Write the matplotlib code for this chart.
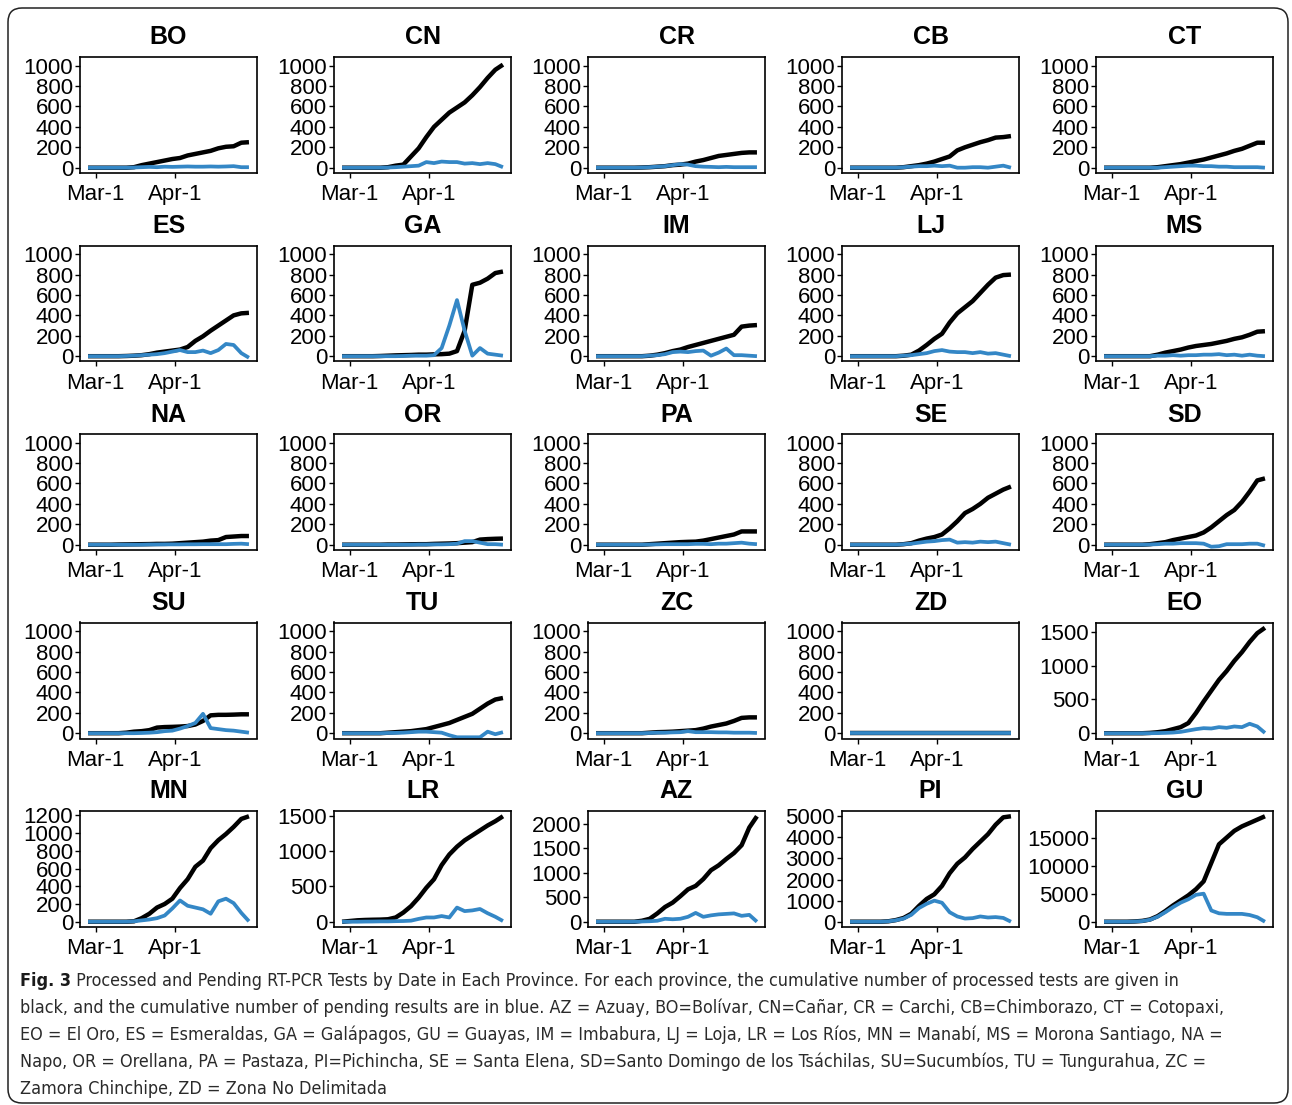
import numpy as np
import matplotlib
matplotlib.use("Agg")
import matplotlib.pyplot as plt
from matplotlib import font_manager as fm
from matplotlib.patches import FancyBboxPatch
from matplotlib.transforms import IdentityTransform
from matplotlib.ticker import MultipleLocator

# ---------------- data ----------------
dates = np.arange("2020-02-27", "2020-05-01", 3, dtype="datetime64[D]")
xtick_dates = np.array(["2020-03-01", "2020-04-01"], dtype="datetime64[D]")
xtick_labels = ["Mar-1", "Apr-1"]

provinces = ["BO", "CN", "CR", "CB", "CT",
             "ES", "GA", "IM", "LJ", "MS",
             "NA", "OR", "PA", "SE", "SD",
             "SU", "TU", "ZC", "ZD", "EO",
             "MN", "LR", "AZ", "PI", "GU"]

BO_processed = [0, 0, 0, 0, 0, 0, 5, 25, 40, 55, 70, 85, 95, 120, 135, 150, 165, 190, 205, 210, 245, 250]
BO_pending = [0, 0, 0, 0, 0, 0, 2, 5, 8, 5, 10, 8, 10, 12, 10, 10, 12, 10, 12, 15, 5, 5]
CN_processed = [0, 0, 0, 0, 0, 0, 5, 20, 30, 110, 190, 300, 400, 470, 540, 590, 640, 710, 790, 880, 960, 1010]
CN_pending = [0, 0, 0, 0, 0, 0, 2, 5, 10, 15, 20, 55, 45, 60, 55, 55, 40, 45, 35, 45, 35, 5]
CR_processed = [0, 0, 0, 0, 0, 0, 2, 5, 10, 15, 25, 30, 40, 60, 75, 95, 115, 125, 135, 145, 150, 150]
CR_pending = [0, 0, 0, 0, 0, 0, 2, 5, 10, 15, 25, 35, 30, 15, 10, 8, 5, 8, 5, 5, 5, 5]
CB_processed = [0, 0, 0, 0, 0, 0, 0, 5, 15, 25, 40, 60, 85, 110, 170, 200, 225, 250, 270, 295, 300, 310]
CB_pending = [0, 0, 0, 0, 0, 0, 0, 5, 10, 15, 15, 20, 15, 20, 0, 0, 5, 5, 0, 10, 20, 0]
CT_processed = [0, 0, 0, 0, 0, 0, 0, 5, 15, 25, 35, 50, 65, 80, 100, 120, 140, 165, 185, 215, 245, 245]
CT_pending = [0, 0, 0, 0, 0, 0, 0, 0, 5, 10, 15, 20, 20, 15, 15, 10, 10, 5, 5, 5, 5, 0]
ES_processed = [0, 0, 0, 0, 0, 2, 5, 10, 20, 35, 45, 55, 65, 90, 150, 195, 250, 300, 350, 400, 420, 425]
ES_pending = [0, 0, 0, 0, 0, 2, 5, 10, 15, 20, 30, 45, 60, 40, 40, 55, 30, 60, 120, 110, 30, -15]
GA_processed = [0, 0, 0, 0, 0, 2, 5, 8, 10, 12, 15, 15, 18, 20, 25, 50, 250, 700, 720, 760, 815, 830]
GA_pending = [0, 0, 0, 0, 0, 0, 0, 0, 2, 5, 5, 5, 10, 80, 300, 550, 250, 5, 80, 25, 15, 5]
IM_processed = [0, 0, 0, 0, 0, 0, 0, 5, 15, 30, 50, 65, 90, 110, 130, 150, 170, 190, 210, 290, 300, 305]
IM_pending = [0, 0, 0, 0, 0, 0, 0, 5, 10, 20, 40, 45, 40, 50, 55, 5, 35, 75, 10, 10, 5, 0]
LJ_processed = [0, 0, 0, 0, 0, 0, 0, 5, 15, 55, 110, 170, 220, 330, 420, 480, 540, 620, 700, 770, 795, 800]
LJ_pending = [0, 0, 0, 0, 0, 0, 0, 5, 10, 20, 30, 50, 60, 45, 40, 40, 30, 40, 25, 30, 15, 0]
MS_processed = [0, 0, 0, 0, 0, 0, 0, 15, 35, 50, 65, 85, 100, 110, 120, 135, 150, 170, 185, 210, 240, 245]
MS_pending = [0, 0, 0, 0, 0, 0, 0, 5, 5, 10, 5, 10, 10, 15, 15, 20, 10, 15, 5, 15, 5, 0]
NA_processed = [0, 0, 0, 0, 2, 3, 4, 5, 6, 8, 8, 10, 15, 20, 25, 30, 40, 45, 75, 80, 85, 85]
NA_pending = [0, 0, 0, 0, 0, 0, 0, 0, 2, 2, 3, 3, 3, 4, 4, 5, 5, 5, 5, 8, 10, 5]
OR_processed = [0, 0, 0, 0, 0, 0, 2, 2, 3, 4, 5, 5, 8, 10, 12, 15, 20, 25, 50, 55, 58, 60]
OR_pending = [0, 0, 0, 0, 0, 0, 0, 0, 0, 0, 2, 2, 3, 3, 5, 10, 35, 35, 20, 5, 5, 0]
PA_processed = [0, 0, 0, 0, 0, 0, 0, 5, 10, 15, 20, 25, 28, 30, 40, 55, 70, 85, 100, 130, 130, 130]
PA_pending = [0, 0, 0, 0, 0, 0, 0, 2, 3, 5, 5, 5, 5, 8, 8, 5, 10, 10, 15, 20, 10, 5]
SE_processed = [0, 0, 0, 0, 0, 0, 0, 5, 15, 40, 60, 75, 100, 160, 230, 310, 350, 400, 460, 500, 540, 570]
SE_pending = [0, 0, 0, 0, 0, 0, 0, 5, 10, 20, 30, 35, 45, 50, 20, 25, 20, 30, 25, 30, 15, 0]
SD_processed = [0, 0, 0, 0, 0, 0, 5, 15, 25, 45, 60, 75, 90, 120, 170, 230, 290, 340, 420, 520, 630, 650]
SD_pending = [0, 0, 0, 0, 0, 0, 2, 5, 10, 10, 15, 15, 15, 10, -20, -15, 5, 5, 5, 10, 10, -10]
SU_processed = [0, 0, 0, 0, 0, 5, 15, 20, 30, 55, 60, 62, 65, 70, 85, 120, 175, 180, 180, 182, 185, 185]
SU_pending = [0, 0, 0, 0, 0, 0, 0, 2, 5, 10, 20, 25, 45, 70, 100, 190, 50, 40, 30, 25, 15, 5]
TU_processed = [0, 0, 0, 0, 0, 0, 5, 10, 15, 20, 30, 40, 60, 80, 100, 130, 160, 190, 240, 290, 330, 345]
TU_pending = [0, 0, 0, 0, 0, 0, 2, 3, 5, 10, 15, 15, 10, 5, -20, -40, -40, -40, -40, 15, -10, 10]
ZC_processed = [0, 0, 0, 0, 0, 0, 0, 5, 10, 12, 15, 20, 25, 30, 45, 65, 80, 95, 120, 150, 155, 155]
ZC_pending = [0, 0, 0, 0, 0, 0, 0, 2, 5, 5, 8, 10, 20, 10, 10, 10, 8, 8, 5, 5, 5, 2]
ZD_processed = [0, 0, 0, 0, 0, 0, 0, 0, 0, 0, 0, 0, 0, 0, 0, 0, 0, 0, 0, 0, 0, 0]
ZD_pending = [0, 0, 0, 0, 0, 0, 0, 0, 0, 0, 0, 0, 0, 0, 0, 0, 0, 0, 0, 0, 0, 0]
EO_processed = [0, 0, 0, 0, 0, 0, 5, 15, 30, 60, 90, 150, 300, 470, 630, 790, 920, 1070, 1200, 1350, 1480, 1560]
EO_pending = [0, 0, 0, 0, 0, 0, 0, 2, 5, 10, 20, 40, 60, 75, 70, 90, 80, 100, 90, 140, 100, 5]
MN_processed = [0, 0, 0, 0, 0, 0, 5, 40, 90, 160, 200, 260, 380, 480, 620, 690, 830, 920, 990, 1070, 1160, 1190]
MN_pending = [0, 0, 0, 0, 0, 0, 5, 15, 25, 40, 70, 150, 240, 180, 160, 140, 90, 230, 260, 210, 100, 5]
LR_processed = [0, 10, 20, 25, 28, 30, 35, 60, 130, 220, 340, 480, 600, 800, 950, 1060, 1150, 1220, 1290, 1360, 1420, 1490]
LR_pending = [0, 0, 0, 2, 3, 5, 5, 8, 10, 15, 40, 60, 60, 80, 60, 200, 150, 160, 180, 120, 70, 10]
AZ_processed = [0, 0, 0, 0, 0, 0, 20, 60, 170, 300, 390, 520, 660, 730, 870, 1050, 1150, 1280, 1400, 1560, 1920, 2150]
AZ_pending = [0, 0, 0, 0, 0, 0, 5, 10, 20, 60, 50, 60, 100, 180, 100, 130, 150, 160, 170, 120, 140, 0]
PI_processed = [0, 0, 0, 0, 0, 20, 80, 180, 380, 750, 1080, 1300, 1700, 2300, 2750, 3050, 3450, 3800, 4150, 4600, 4950, 5000]
PI_pending = [0, 0, 0, 0, 0, 20, 70, 150, 330, 650, 850, 1000, 900, 450, 250, 150, 170, 250, 200, 220, 180, 0]
GU_processed = [0, 0, 0, 0, 50, 150, 400, 1000, 1900, 2900, 3800, 4700, 5800, 7200, 10500, 13800, 15000, 16200, 17000, 17600, 18200, 18800]
GU_pending = [0, 0, 0, 0, 40, 120, 350, 900, 1700, 2600, 3400, 4000, 4800, 5000, 2000, 1500, 1400, 1400, 1400, 1200, 800, 0]

# y tick step for panels with their own scale
ytick_step = {"EO": 500, "MN": 200, "LR": 500, "AZ": 500, "PI": 1000, "GU": 5000}

caption_lead = "Fig. 3"
caption_lines = [
    "Processed and Pending RT-PCR Tests by Date in Each Province. For each province, the cumulative number of processed tests are given in",
    "black, and the cumulative number of pending results are in blue. AZ = Azuay, BO=Bolívar, CN=Cañar, CR = Carchi, CB=Chimborazo, CT = Cotopaxi,",
    "EO = El Oro, ES = Esmeraldas, GA = Galápagos, GU = Guayas, IM = Imbabura, LJ = Loja, LR = Los Ríos, MN = Manabí, MS = Morona Santiago, NA =",
    "Napo, OR = Orellana, PA = Pastaza, PI=Pichincha, SE = Santa Elena, SD=Santo Domingo de los Tsáchilas, SU=Sucumbíos, TU = Tungurahua, ZC =",
    "Zamora Chinchipe, ZD = Zona No Delimitada",
]

# ---------------- fonts ----------------
plt.rcParams["font.family"] = ["Liberation Sans", "DejaVu Sans"]


def pick_condensed(bold=False):
    cond = {"condensed", "semi-condensed", "extra-condensed", "ultra-condensed"}
    prefs = ["Liberation Sans Narrow", "Noto Sans", "Open Sans", "Roboto", "DejaVu Sans", "Lato", "Inter"]
    for name in prefs:
        for f in fm.fontManager.ttflist:
            st = f.stretch
            is_cond = (st in cond) or (isinstance(st, (int, float)) and st < 500) or ("Narrow" in f.name) \
                or ("Condensed" in f.fname) or ("Narrow" in f.fname)
            if f.name == name and is_cond and f.style == "normal":
                wt = f.weight if isinstance(f.weight, int) else (700 if "bold" in str(f.weight) else 400)
                if (bold and wt >= 600) or (not bold and 350 <= wt <= 450):
                    return fm.FontProperties(fname=f.fname)
    fp = fm.FontProperties(family=["Liberation Sans", "DejaVu Sans"], weight="bold" if bold else "normal")
    return fp


cap_reg = pick_condensed(False)
cap_bold = pick_condensed(True)

# ---------------- figure ----------------
W, H = 1292, 1105
fig = plt.figure(figsize=(W / 100, H / 100), dpi=100)
fig.patch.set_facecolor("white")

BLUE = "#3487c6"
data = globals()
for idx, code in enumerate(provinces):
    r, c = divmod(idx, 5)
    left = 80 + 254 * c
    top = 57 + 188.5 * r
    w, h = 177, 116
    ax = fig.add_axes([left / W, 1 - (top + h) / H, w / W, h / H])
    proc = data[code + "_processed"]
    pend = data[code + "_pending"]
    ax.plot(dates, proc, color="black", lw=3.2, solid_capstyle="butt")
    ax.plot(dates, pend, color=BLUE, lw=2.7, solid_capstyle="butt")
    ax.margins(x=0.05, y=0.05)
    if code in ytick_step:
        ax.yaxis.set_major_locator(MultipleLocator(ytick_step[code]))
    else:
        ax.set_ylim(-52, 1085)
        ax.yaxis.set_major_locator(MultipleLocator(200))
    ax.set_xticks(xtick_dates, labels=xtick_labels)
    ax.set_title(code, fontsize=18, fontweight="bold", pad=9)
    ax.tick_params(axis="both", labelsize=16, length=3.5, width=1.0, colors="black")
    ax.tick_params(axis="x", pad=4.5)
    ax.tick_params(axis="y", pad=1.5)
    for s in ax.spines.values():
        s.set_linewidth(1.2)
        s.set_color("black")

# border
border = FancyBboxPatch((8, 2), 1280, 1095, boxstyle="round,pad=0,rounding_size=14",
                        transform=IdentityTransform(), fill=False, edgecolor="#222222", lw=1.1)
fig.add_artist(border)

# caption: one font size, chosen so that no line runs past its reference right edge
renderer = fig.canvas.get_renderer()
base_y = [986, 1013, 1040, 1067, 1094]
right_edges = [1266, 1268, 1232, 1212, 408]
x0 = 20
size0 = 15.0
lead = fig.text(x0 / W, 1 - base_y[0] / H, caption_lead, fontproperties=cap_bold, fontsize=size0,
                color="#1a1a1a", va="baseline", ha="left")
texts = []
for i, (line, by) in enumerate(zip(caption_lines, base_y)):
    s = (" " + line) if i == 0 else line
    texts.append(fig.text(x0 / W, 1 - by / H, s, fontproperties=cap_reg, fontsize=size0,
                          color="#2a2a2a", va="baseline", ha="left"))
lead_w = lead.get_window_extent(renderer).width
scales = []
for i, t in enumerate(texts[:4]):
    wdt = t.get_window_extent(renderer).width + (lead_w if i == 0 else 0)
    scales.append((right_edges[i] - x0) / wdt)
size = size0 * min(scales)
lead.set_fontsize(size)
for t in texts:
    t.set_fontsize(size)
lead_w = lead.get_window_extent(renderer).width
texts[0].set_x((x0 + lead_w) / W)

fig.savefig("out.png", dpi=100, facecolor="white")
